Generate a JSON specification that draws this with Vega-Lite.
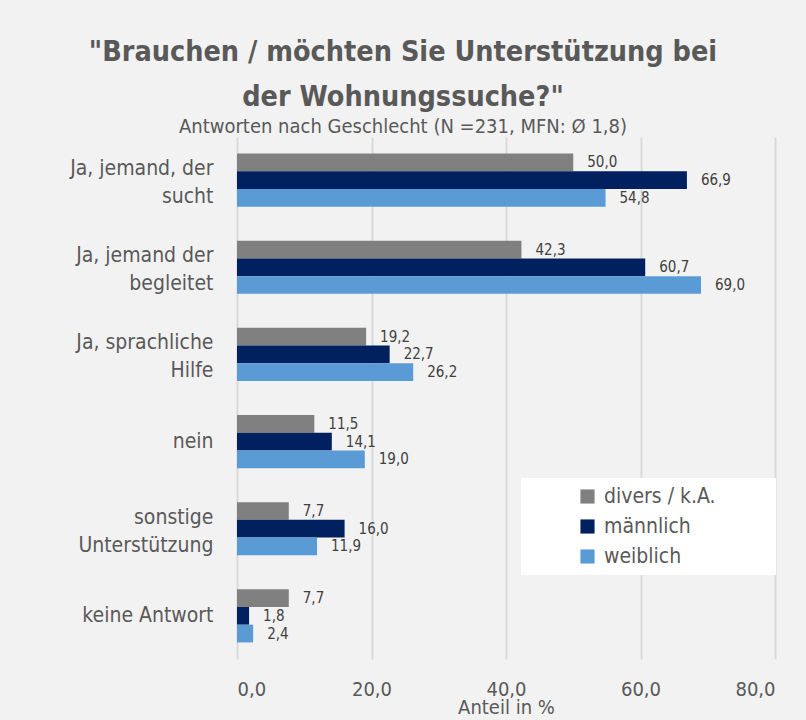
{
  "$schema": "https://vega.github.io/schema/vega-lite/v6.json",
  "width": 538,
  "height": 522,
  "autosize": {"type": "none"},
  "padding": {"left": 237, "top": 137, "right": 31, "bottom": 61},
  "background": "#f2f2f2",
  "view": {"stroke": null},
  "title": {
    "text": ["\"Brauchen / möchten Sie Unterstützung bei", "der Wohnungssuche?\""],
    "subtitle": "Antworten nach Geschlecht (N =231, MFN: Ø 1,8)",
    "anchor": "middle",
    "dx": -103,
    "font": "DejaVu Sans Condensed",
    "fontSize": 28.5,
    "fontWeight": "bold",
    "color": "#595959",
    "lineHeight": 45,
    "subtitleFont": "DejaVu Sans Condensed",
    "subtitleFontSize": 20,
    "subtitleColor": "#595959",
    "subtitlePadding": 6,
    "offset": 0
  },
  "data": {
    "values": [
      {"k": "Ja, jemand, der|sucht", "g": "divers / k.A.", "v": 50.0},
      {"k": "Ja, jemand, der|sucht", "g": "männlich", "v": 66.9},
      {"k": "Ja, jemand, der|sucht", "g": "weiblich", "v": 54.8},
      {"k": "Ja, jemand der|begleitet", "g": "divers / k.A.", "v": 42.3},
      {"k": "Ja, jemand der|begleitet", "g": "männlich", "v": 60.7},
      {"k": "Ja, jemand der|begleitet", "g": "weiblich", "v": 69.0},
      {"k": "Ja, sprachliche|Hilfe", "g": "divers / k.A.", "v": 19.2},
      {"k": "Ja, sprachliche|Hilfe", "g": "männlich", "v": 22.7},
      {"k": "Ja, sprachliche|Hilfe", "g": "weiblich", "v": 26.2},
      {"k": "nein", "g": "divers / k.A.", "v": 11.5},
      {"k": "nein", "g": "männlich", "v": 14.1},
      {"k": "nein", "g": "weiblich", "v": 19.0},
      {"k": "sonstige|Unterstützung", "g": "divers / k.A.", "v": 7.7},
      {"k": "sonstige|Unterstützung", "g": "männlich", "v": 16.0},
      {"k": "sonstige|Unterstützung", "g": "weiblich", "v": 11.9},
      {"k": "keine Antwort", "g": "divers / k.A.", "v": 7.7},
      {"k": "keine Antwort", "g": "männlich", "v": 1.8},
      {"k": "keine Antwort", "g": "weiblich", "v": 2.4}
    ]
  },
  "encoding": {
    "y": {
      "field": "k",
      "type": "nominal",
      "sort": null,
      "scale": {"paddingInner": 0.39, "paddingOuter": 0.19},
      "axis": {
        "title": null,
        "ticks": false,
        "domain": false,
        "labelExpr": "split(datum.label, '|')",
        "labelOffset": {"condition": {"test": "indexof(datum.value, '|') >= 0", "value": -11}, "value": 0},
        "labelFont": "DejaVu Sans Condensed",
        "labelFontSize": 21,
        "labelLineHeight": 28,
        "labelColor": "#595959",
        "labelPadding": 24,
        "labelLimit": 300
      }
    },
    "x": {
      "field": "v",
      "type": "quantitative",
      "scale": {"domain": [0, 80]},
      "axis": {
        "title": "Anteil in %",
        "values": [0, 20, 40, 60, 80],
        "labelExpr": "replace(format(datum.value, '.1f'), '.', ',')",
        "ticks": false,
        "domain": false,
        "grid": true,
        "gridColor": "#d9d9d9",
        "gridWidth": 2,
        "labelFont": "DejaVu Sans Condensed",
        "labelFontSize": 20,
        "labelColor": "#595959",
        "labelPadding": 20,
        "titleFont": "DejaVu Sans Condensed",
        "titleFontSize": 20,
        "titleFontWeight": "normal",
        "titleColor": "#595959",
        "titlePadding": -2
      }
    },
    "yOffset": {"field": "g", "type": "nominal", "sort": ["divers / k.A.", "männlich", "weiblich"]}
  },
  "layer": [
    {
      "mark": {"type": "bar"},
      "encoding": {
        "color": {
          "field": "g",
          "type": "nominal",
          "scale": {"domain": ["divers / k.A.", "männlich", "weiblich"], "range": ["#808080", "#002060", "#5b9bd5"]},
          "legend": {
            "title": "\u00a0",
            "titleOrient": "right",
            "titlePadding": 52,
            "titleFontSize": 10,
            "orient": "none",
            "legendX": 284,
            "legendY": 341,
            "fillColor": "white",
            "padding": 8,
            "symbolType": "square",
            "symbolSize": 200,
            "symbolStrokeWidth": 0,
            "symbolOffset": 48,
            "rowPadding": 8,
            "labelFont": "DejaVu Sans Condensed",
            "labelFontSize": 21,
            "labelColor": "#595959",
            "labelOffset": 6,
            "labelLimit": 400
          }
        }
      }
    },
    {
      "mark": {
        "type": "text",
        "align": "left",
        "baseline": "middle",
        "dx": 14,
        "font": "DejaVu Sans Condensed",
        "fontSize": 15,
        "color": "#404040",
        "text": {"expr": "replace(format(datum.v, '.1f'), '.', ',')"}
      }
    }
  ]
}
